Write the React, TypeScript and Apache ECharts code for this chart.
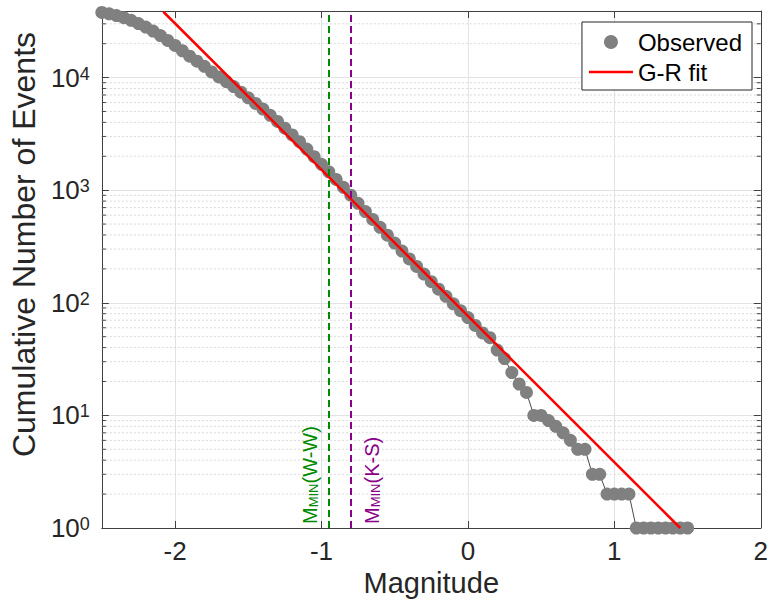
import React, { useEffect, useRef } from "react";
import * as echarts from "echarts";

// ---- data ----
const magnitudes = [
  -2.5, -2.45, -2.4, -2.35, -2.3, -2.25, -2.2, -2.15, -2.1, -2.05,
  -2.0, -1.95, -1.9, -1.85, -1.8, -1.75, -1.7, -1.65, -1.6, -1.55,
  -1.5, -1.45, -1.4, -1.35, -1.3, -1.25, -1.2, -1.15, -1.1, -1.05,
  -1.0, -0.95, -0.9, -0.85, -0.8, -0.75, -0.7, -0.65, -0.6, -0.55,
  -0.5, -0.45, -0.4, -0.35, -0.3, -0.25, -0.2, -0.15, -0.1, -0.05,
  0.0, 0.05, 0.1, 0.15, 0.2, 0.25, 0.3, 0.35, 0.4, 0.45,
  0.5, 0.55, 0.6, 0.65, 0.7, 0.75, 0.8, 0.85, 0.9, 0.95,
  1.0, 1.05, 1.1, 1.15, 1.2, 1.25, 1.3, 1.35, 1.4, 1.45, 1.5,
];
const cumulativeCounts = [
  37840, 36810, 35560, 34040, 32210, 30200, 28050, 25880, 23600, 21380,
  19280, 17300, 15490, 13960, 12590, 11220, 10120, 9226, 8318, 7413,
  6607, 5888, 5248, 4624, 4074, 3548, 3090, 2692, 2317, 1982,
  1698, 1455, 1245, 1059, 902, 764, 646, 550, 468, 398,
  339, 288, 245, 210, 180, 154, 132, 114, 98, 85,
  74, 63, 54, 49, 38, 32, 24, 19, 16, 10,
  10, 9, 8, 7, 6, 5, 5, 3, 3, 2,
  2, 2, 2, 1, 1, 1, 1, 1, 1, 1, 1,
];
const fitMagnitudes = [-2.08, 1.45];
const fitCounts = [38400, 1];
const mMinWW = -0.95;
const mMinKS = -0.8;
const minorTicks = [
  2, 3, 4, 5, 6, 7, 8, 9,
  20, 30, 40, 50, 60, 70, 80, 90,
  200, 300, 400, 500, 600, 700, 800, 900,
  2000, 3000, 4000, 5000, 6000, 7000, 8000, 9000,
  20000, 30000,
];
const X_MIN = -2.5;
const X_MAX = 2;
const Y_MIN = 1;
const Y_MAX = 39000;

const FONT = "'Liberation Sans', Arial, Helvetica, sans-serif";
const TXT = "#262626";
const AXIS = "#404040";
const GRID = "#e3e3e3";
const GREEN = "#008a00";
const PURPLE = "#8a008a";

export default function App() {
  const ref = useRef<HTMLDivElement>(null);
  useEffect(() => {
    if (!ref.current) return;
    const chart = echarts.init(ref.current, undefined, { renderer: "svg" });
    const observed = magnitudes.map((m, i) => [m, cumulativeCounts[i]]);
    const fit = fitMagnitudes.map((m, i) => [m, fitCounts[i]]);
    const subRich = (color: string) => ({
      m: { fontSize: 20, color, fontFamily: FONT, verticalAlign: "top", lineHeight: 20 },
      s: { fontSize: 13, color, fontFamily: FONT, verticalAlign: "bottom", lineHeight: 13, padding: [12, 0, 0, 0] },
    });
    const option: any = {
      animation: false,
      textStyle: { fontFamily: FONT },
      grid: { left: 99, right: 6, top: 11, bottom: 80, containLabel: false },
      legend: {
        right: 19,
        top: 22,
        orient: "vertical",
        backgroundColor: "#ffffff",
        borderColor: TXT,
        borderWidth: 1,
        borderRadius: 0,
        padding: [7, 10, 5, 7],
        itemGap: 4,
        itemWidth: 44,
        itemHeight: 14,
        textStyle: { fontSize: 24, color: "#000", lineHeight: 26, fontFamily: FONT },
        data: [
          { name: "Observed", icon: "circle" },
          { name: "G-R fit", icon: "path://M0,0H44V2.6H0Z" },
        ],
      },
      xAxis: [
        {
          type: "value",
          min: X_MIN,
          max: X_MAX,
          splitNumber: 5,
          position: "bottom",
          axisLine: { show: true, onZero: false, lineStyle: { color: AXIS, width: 1 } },
          axisTick: { show: true, inside: true, length: 7, lineStyle: { color: AXIS } },
          axisLabel: {
            fontSize: 26,
            color: TXT,
            margin: 10,
            fontFamily: FONT,
            showMinLabel: false,
            formatter: (v: number) => (Math.abs(v - Math.round(v)) < 1e-9 ? String(Math.round(v)) : ""),
          },
          splitLine: { show: true, lineStyle: { color: GRID, width: 1 } },
          name: "Magnitude",
          nameLocation: "middle",
          nameGap: 36,
          nameTextStyle: { fontSize: 29, color: TXT, fontFamily: FONT },
        },
        {
          type: "value",
          min: X_MIN,
          max: X_MAX,
          splitNumber: 5,
          position: "top",
          axisLine: { show: true, onZero: false, lineStyle: { color: AXIS, width: 1 } },
          axisTick: { show: true, inside: true, length: 7, lineStyle: { color: AXIS } },
          axisLabel: { show: false },
          splitLine: { show: false },
        },
      ],
      yAxis: [
        {
          type: "log",
          logBase: 10,
          min: Y_MIN,
          max: Y_MAX,
          position: "left",
          axisLine: { show: true, onZero: false, lineStyle: { color: AXIS, width: 1 } },
          axisTick: { show: true, inside: true, length: 7, lineStyle: { color: AXIS } },
          axisLabel: {
            margin: 12,
            color: TXT,
            fontFamily: FONT,
            showMaxLabel: false,
            formatter: (v: number) => {
              const l = Math.log10(v);
              const e = Math.round(l);
              if (Math.abs(l - e) > 1e-6) return "";
              return `{b|10}{p|${e}}`;
            },
            rich: {
              b: { fontSize: 26, color: TXT, fontFamily: FONT, verticalAlign: "bottom", lineHeight: 26 },
              p: { fontSize: 18, color: TXT, fontFamily: FONT, verticalAlign: "top", lineHeight: 18, padding: [0, 0, 14, 0] },
            },
          },
          splitLine: { show: true, lineStyle: { color: GRID, width: 1 } },
          name: "Cumulative Number of Events",
          nameLocation: "middle",
          nameGap: 56,
          nameRotate: 90,
          nameTextStyle: { fontSize: 32, color: TXT, fontFamily: FONT, padding: [0, 0, 0, 50] },
        },
        {
          type: "log",
          logBase: 10,
          min: Y_MIN,
          max: Y_MAX,
          position: "right",
          axisLine: { show: true, onZero: false, lineStyle: { color: AXIS, width: 1 } },
          axisTick: { show: true, inside: true, length: 7, lineStyle: { color: AXIS } },
          axisLabel: { show: false },
          splitLine: { show: false },
        },
      ],
      series: [
        {
          type: "custom",
          name: "minorGrid",
          silent: true,
          z: 1,
          xAxisIndex: 0,
          yAxisIndex: 0,
          clip: false,
          data: minorTicks.map((v) => [X_MIN, v]),
          renderItem: (params: any, api: any) => {
            const cs = params.coordSys;
            const y = api.coord([X_MIN, api.value(1)])[1];
            return {
              type: "group",
              children: [
                { type: "line", shape: { x1: cs.x, y1: y, x2: cs.x + cs.width, y2: y }, style: { stroke: "#d8d8d8", lineWidth: 1, lineDash: [2, 2] } },
                { type: "line", shape: { x1: cs.x, y1: y, x2: cs.x + 4, y2: y }, style: { stroke: AXIS, lineWidth: 1 } },
                { type: "line", shape: { x1: cs.x + cs.width - 4, y1: y, x2: cs.x + cs.width, y2: y }, style: { stroke: AXIS, lineWidth: 1 } },
              ],
            };
          },
        },
        {
          type: "line",
          name: "Observed",
          z: 2,
          data: observed,
          symbol: "circle",
          symbolSize: 13,
          showSymbol: true,
          itemStyle: { color: "#808080", borderWidth: 0 },
          lineStyle: { color: "#1a1a1a", width: 0.8 },
        },
        {
          type: "line",
          name: "mmin",
          z: 3,
          data: [],
          markLine: {
            silent: true,
            symbol: ["none", "none"],
            animation: false,
            data: [
              {
                xAxis: mMinWW,
                lineStyle: { color: GREEN, type: [7, 4], width: 2 },
                label: {
                  show: true,
                  position: "insideStartTop",
                  distance: [4, 9],
                  formatter: "{m|M}{s|MIN}{m|(W-W)}",
                  rich: subRich(GREEN),
                },
              },
              {
                xAxis: mMinKS,
                lineStyle: { color: PURPLE, type: [7, 4], width: 2 },
                label: {
                  show: true,
                  position: "insideStartBottom",
                  distance: [4, 11],
                  formatter: "{m|M}{s|MIN}{m|(K-S)}",
                  rich: subRich(PURPLE),
                },
              },
            ],
          },
        },
        {
          type: "line",
          name: "G-R fit",
          z: 4,
          data: fit,
          symbol: "none",
          showSymbol: false,
          itemStyle: { color: "#ff0000" },
          lineStyle: { color: "#ff0000", width: 2.5 },
        },
      ],
    };
    chart.setOption(option);
    return () => chart.dispose();
  }, []);
  return (
    <div
      ref={ref}
      style={{ position: "fixed", left: 0, top: 0, width: 771, height: 608, background: "#fff" }}
    />
  );
}
